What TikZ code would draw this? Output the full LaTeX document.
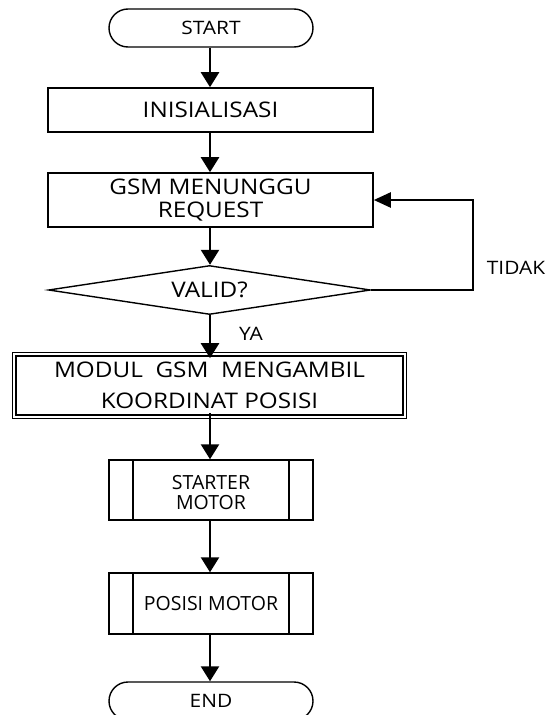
\documentclass[tikz,border=0pt]{standalone}
\usepackage{fontspec}
\setmainfont{Open Sans}
\newfontfamily\widefont[FakeStretch=1.13]{Open Sans}
\usetikzlibrary{arrows.meta,shapes.geometric}
\begin{document}
\begin{tikzpicture}[x=1pt,y=-1pt,
  box/.style={draw,line width=1.6pt,rectangle,inner sep=0pt,align=center},
  term/.style={draw,line width=1.4pt,rectangle,rounded corners=19pt,inner sep=0pt,
    minimum width=204pt,minimum height=38pt,font=\widefont\fontsize{18.5}{20}\selectfont},
  bigtext/.style={font=\widefont\fontsize{21.5}{23}\selectfont},
  prebox/.style={draw,line width=1.4pt,rectangle,inner sep=0pt,align=center,
    minimum width=204pt,font=\fontsize{19.5}{20}\selectfont},
  arr/.style={line width=2.5pt,-{Triangle[width=18pt,length=15pt]}},
  arrfb/.style={line width=2.3pt,-{Triangle[width=15pt,length=17pt]}},
  lbl/.style={inner sep=0pt,font=\widefont\fontsize{18.5}{20}\selectfont}]
\useasboundingbox (0,0) rectangle (555,715);
\fill[white] (0,0) rectangle (555,715);
\clip (0,0) rectangle (555,715);

\node[term] (start) at (211,28) {START};
\node[box,bigtext,minimum width=325pt,minimum height=44pt] (init) at (210.5,110) {INISIALISASI};
\node[box,bigtext,minimum width=325pt,minimum height=54pt] (gsm) at (210.5,200) {GSM MENUNGGU\\REQUEST};
\node[draw,line width=1.4pt,diamond,aspect=6.5,inner sep=0pt,minimum width=322pt,minimum height=49pt,bigtext] (dia) at (209.5,290) {VALID?};
\node[box,line width=1.6pt,font=\widefont\fontsize{21.5}{31}\selectfont,minimum width=387pt,minimum height=59pt] (mod) at (209.5,385.5) {MODUL\ \ GSM\ \ MENGAMBIL\\KOORDINAT POSISI};
\draw[line width=1pt] ([shift={(-3,-3)}]mod.north west) rectangle ([shift={(3,3)}]mod.south east);
\node[prebox,minimum height=60pt] (stm) at (211,490) {};
\node[inner sep=0pt,align=center,font=\fontsize{19.5}{20}\selectfont] (stmtext) at (211,493) {STARTER\\MOTOR};
\draw[line width=1.8pt] ([xshift=25pt]stm.north west) -- ([xshift=25pt]stm.south west);
\draw[line width=1.8pt] ([xshift=-25pt]stm.north east) -- ([xshift=-25pt]stm.south east);
\node[prebox,minimum height=61pt] (pos) at (211,603.5) {POSISI MOTOR};
\draw[line width=1.8pt] ([xshift=25pt]pos.north west) -- ([xshift=25pt]pos.south west);
\draw[line width=1.8pt] ([xshift=-25pt]pos.north east) -- ([xshift=-25pt]pos.south east);
\node[term] (end) at (211,701) {END};

\draw[arr] (start.south -| 210,0) -- (init.north -| 210,0);
\draw[arr] (init.south -| 210,0) -- (gsm.north -| 210,0);
\draw[arr] (gsm.south -| 210,0) -- (dia.north -| 210,0);
\draw[arr] (dia.south -| 210,0) -- ([yshift=-3pt]mod.north -| 210,0);
\node[lbl] (ya) at (251,334) {YA};
\draw[arr] ([yshift=3pt]mod.south -| 210,0) -- (stm.north -| 210,0);
\draw[arr] (stm.south -| 210,0) -- (pos.north -| 210,0);
\draw[arr] (pos.south -| 210,0) -- (end.north -| 210,0);
\coordinate (fb) at (473,290);
\draw[arrfb] (dia.east) -- (fb) |- (gsm.east);
\node[lbl] (tidak) at (516,268) {TIDAK};
\end{tikzpicture}
\end{document}
